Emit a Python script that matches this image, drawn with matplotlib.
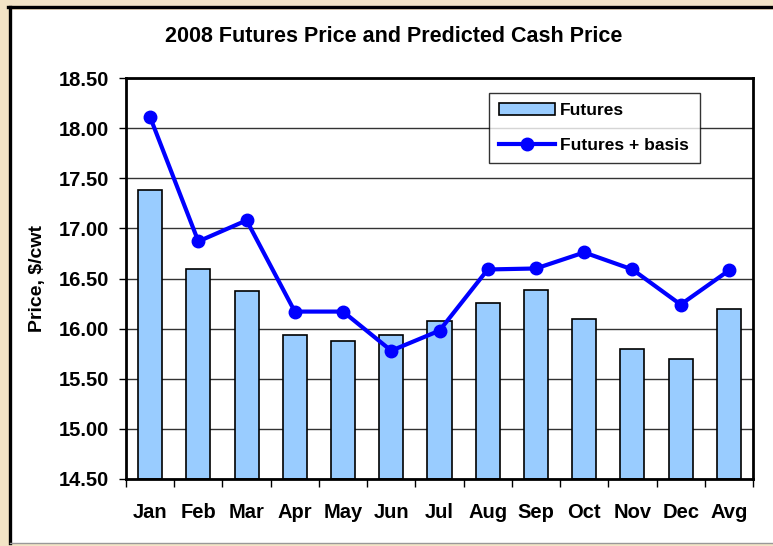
import matplotlib
matplotlib.use("Agg")
import matplotlib.pyplot as plt
from matplotlib.patches import Rectangle
from matplotlib.lines import Line2D
from matplotlib.ticker import FixedLocator, FormatStrFormatter
import numpy as np

months = ["Jan", "Feb", "Mar", "Apr", "May", "Jun", "Jul", "Aug", "Sep", "Oct", "Nov", "Dec", "Avg"]
futures = [17.38, 16.59, 16.38, 15.94, 15.88, 15.94, 16.08, 16.26, 16.39, 16.10, 15.80, 15.70, 16.20]
futures_basis = [18.11, 16.87, 17.08, 16.17, 16.17, 15.78, 15.98, 16.59, 16.60, 16.76, 16.59, 16.24, 16.58]
yticks = [14.50, 15.00, 15.50, 16.00, 16.50, 17.00, 17.50, 18.00, 18.50]

W, H = 773, 546
plt.rcParams['font.family'] = ['Liberation Sans', 'DejaVu Sans']
plt.rcParams['font.weight'] = 'bold'

fig = plt.figure(figsize=(W / 100, H / 100), dpi=100)
fig.patch.set_facecolor("#F3E4C6")

# white panel
fig.patches.append(Rectangle((9.5 / W, 3 / H), 1.0, (H - 9.5 - 3) / H, transform=fig.transFigure,
                             facecolor="white", edgecolor="none", zorder=-2))
fig.lines.append(Line2D([9.5 / W, 9.5 / W], [3 / H, (H - 6.5) / H], transform=fig.transFigure, color="black", lw=2.4, zorder=-1))
fig.lines.append(Line2D([8.3 / W, 1.0], [(H - 6.5) / H, (H - 6.5) / H], transform=fig.transFigure, color="black", lw=2.4, zorder=-1))
fig.lines.append(Line2D([9.5 / W, 1.0], [3 / H, 3 / H], transform=fig.transFigure, color="#999999", lw=1, zorder=-1))

left, right, top, bottom = 126, 753, 78, 479
ax = fig.add_axes([left / W, (H - bottom) / H, (right - left) / W, (bottom - top) / H])
ax.set_zorder(2)
ax.set_facecolor("white")

x = np.arange(len(months))
bars = ax.bar(x, np.array(futures) - 14.5, bottom=14.5, width=0.5, color="#99CCFF", edgecolor="black",
              linewidth=1.2, label="Futures", zorder=3)
line, = ax.plot(x, futures_basis, color="#0000FF", lw=3, marker="o", markersize=9, label="Futures + basis", zorder=4)

ax.set_xlim(-0.5, len(months) - 0.5)
ax.set_ylim(14.5, 18.5)
ax.set_yticks(yticks)
ax.yaxis.set_major_formatter(FormatStrFormatter("%.2f"))
ax.yaxis.grid(True, color="#333333", lw=1)
ax.set_axisbelow(True)
ax.set_xticks(x)
ax.set_xticklabels(months)
ax.xaxis.set_minor_locator(FixedLocator(np.arange(-0.5, len(months), 1.0)))
ax.tick_params(axis="x", which="major", length=0, pad=17, labelsize=14.5)
ax.tick_params(axis="x", which="minor", length=6, width=1, direction="out")
ax.tick_params(axis="y", length=5, width=1, direction="out", pad=7, labelsize=14.5)
for sp in ax.spines.values():
    sp.set_linewidth(2)
    sp.set_zorder(5)

ax.set_ylabel("Price, $/cwt", fontsize=14, fontweight="bold", labelpad=9)

fig.text(394 / W, (H - 37) / H, "2008 Futures Price and Predicted Cash Price", ha="center", va="center",
         fontsize=15.5, fontweight="bold")

leg = ax.legend([bars, line], ["Futures", "Futures + basis"], loc="upper left",
                bbox_to_anchor=(0.579, 0.963), frameon=True, fancybox=False,
                edgecolor="black", fontsize=12.5, labelspacing=1.1, handlelength=3.2,
                borderpad=0.6, handletextpad=0.3, borderaxespad=0)
leg.get_frame().set_linewidth(1)
leg.set_zorder(6)

fig.savefig("out.png", dpi=100, facecolor=fig.get_facecolor())
